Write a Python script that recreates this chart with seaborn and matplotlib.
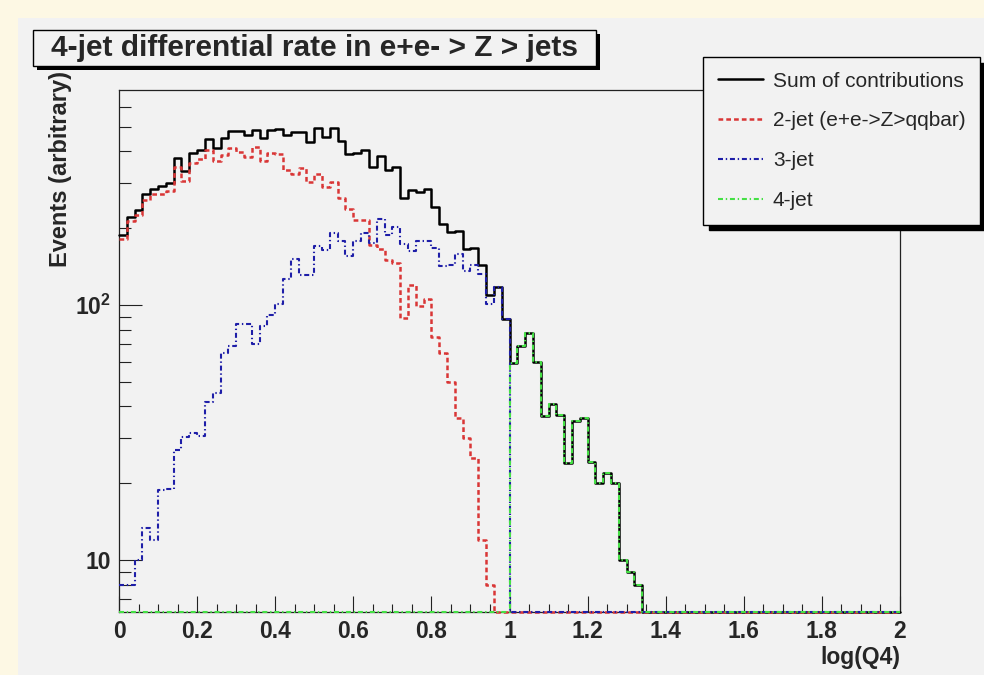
import numpy as np
import pandas as pd
import matplotlib
matplotlib.use("Agg")
import matplotlib.pyplot as plt
import seaborn as sns
from matplotlib.patches import Rectangle
from matplotlib.ticker import MultipleLocator, FixedLocator, FuncFormatter, NullFormatter, LogLocator

# histogram: 100 bins of 0.02 in log(Q4), from 0 to 2
n_bins = 100
x_min, x_max = 0.0, 2.0

two_jet = [181, 213, 225, 258, 273, 273, 281, 349, 306, 362,
           373, 405, 367, 387, 414, 399, 380, 415, 368, 394,
           391, 338, 325, 346, 303, 326, 291, 303, 262, 237,
           215, 215, 172, 166, 150, 146, 89, 120, 99, 106,
           75, 65, 50, 36, 30, 25, 12, 8] + [0] * 52

three_jet = [8, 8, 10, 13.3, 12, 18.8, 19, 27, 30.3, 31.6,
             30.6, 41.8, 45.3, 64.6, 69, 84, 84, 70, 83, 91,
             101, 127, 152, 131, 131, 170, 164, 192, 178, 155,
             178, 192, 175, 218, 188, 202, 173, 163, 178, 179,
             168, 142, 144, 159, 136, 143, 132, 101, 118, 88] + [0] * 50

four_jet = [0] * 50 + [59.4, 69, 78, 60, 36.8, 41, 37, 24, 35, 36,
                       24.2, 20, 22, 20, 10, 9, 8] + [0] * 33

y_min, y_max = 6.25, 697

edges = np.linspace(x_min, x_max, n_bins + 1)
hists = {
    "Sum of contributions": np.array(two_jet) + np.array(three_jet) + np.array(four_jet),
    "2-jet (e+e->Z>qqbar)": np.array(two_jet, dtype=float),
    "3-jet": np.array(three_jet, dtype=float),
    "4-jet": np.array(four_jet, dtype=float),
}
styles = {
    "Sum of contributions": dict(color="black", lw=1.8, dashes=None),
    "2-jet (e+e->Z>qqbar)": dict(color="#d93636", lw=1.8, dashes=(3.4, 2.2)),
    "3-jet": dict(color="#1e1ea8", lw=1.5, dashes=(3.6, 2.0, 1.0, 2.0)),
    "4-jet": dict(color="#45e045", lw=1.5, dashes=(3.6, 2.0, 1.0, 2.0)),
}

sns.set_theme(style="ticks")
plt.rcParams["font.family"] = ["Liberation Sans", "DejaVu Sans"]
plt.rcParams["font.weight"] = "bold"
plt.rcParams["mathtext.fontset"] = "custom"
plt.rcParams["mathtext.bf"] = "Liberation Sans:bold"
plt.rcParams["mathtext.rm"] = "Liberation Sans"
plt.rcParams["lines.scale_dashes"] = False

fig = plt.figure(figsize=(9.84, 6.75), dpi=100, facecolor="#fdf8e4")
fig.patches.append(Rectangle((18 / 984, 0), 1, 1 - 18 / 675, transform=fig.transFigure,
                             facecolor="#f2f2f2", edgecolor="none", zorder=-5))
ax = fig.add_axes([119 / 984, 1 - 612 / 675, 781 / 984, 522 / 675])
ax.set_facecolor("#f2f2f2")
ax.set_yscale("log")

for i, (name, vals) in enumerate(hists.items()):
    # zero bins sit on the bottom of the frame, like ROOT does on a log axis
    y = np.where(vals > 0, vals, y_min)
    df = pd.DataFrame({"x": edges, "y": np.append(y, y[-1])})
    st = styles[name]
    kw = {} if st["dashes"] is None else {"dashes": st["dashes"]}
    sns.lineplot(data=df, x="x", y="y", ax=ax, drawstyle="steps-post", color=st["color"],
                 lw=st["lw"], label=name, estimator=None, errorbar=None, sort=False,
                 clip_on=False, zorder=3 + i, **kw)

ax.set_xlim(x_min, x_max)
ax.set_ylim(y_min, y_max)

ax.xaxis.set_major_locator(MultipleLocator(0.2))
ax.xaxis.set_minor_locator(MultipleLocator(0.05))
ax.xaxis.set_major_formatter(FuncFormatter(lambda v, p: f"{v:g}"))
ax.yaxis.set_major_locator(FixedLocator([10, 100]))
ax.yaxis.set_minor_locator(LogLocator(base=10, subs=np.arange(2, 10)))
ax.yaxis.set_major_formatter(FuncFormatter(lambda v, p: "10" if v < 50 else r"$\mathbf{10^{2}}$"))
ax.yaxis.set_minor_formatter(NullFormatter())

ax.tick_params(axis="x", which="major", direction="in", length=11.5, width=0.8, labelsize=16.5, pad=6, color="#222222")
ax.tick_params(axis="x", which="minor", direction="in", length=5.8, width=0.8, color="#222222")
ax.tick_params(axis="y", which="major", direction="in", length=16.5, width=0.8, labelsize=16.5, pad=6, color="#222222")
ax.tick_params(axis="y", which="minor", direction="in", length=8.6, width=0.8, color="#222222")
for s in ax.spines.values():
    s.set_color("#222222")
    s.set_linewidth(0.9)

ax.set_xlabel("log(Q4)", fontsize=16.5, fontweight="bold", ha="right")
ax.xaxis.set_label_coords(1.0, -0.065)
ax.set_ylabel("")
fig.text(60 / 984, 1 - 71 / 675, "Events (arbitrary)", rotation=90, ha="center", va="top",
         fontsize=17, fontweight="bold")

# title box with shadow
fig.patches.append(Rectangle((37 / 984, 1 - 70 / 675), 563 / 984, 36 / 675, transform=fig.transFigure,
                             facecolor="black", edgecolor="none", zorder=5))
fig.patches.append(Rectangle((33 / 984, 1 - 66 / 675), 563 / 984, 36 / 675, transform=fig.transFigure,
                             facecolor="#f2f2f2", edgecolor="black", lw=1.0, zorder=6))
fig.text(314.5 / 984, 1 - 48 / 675, "4-jet differential rate in e+e- > Z > jets", ha="center", va="center",
         fontsize=21.5, fontweight="bold", zorder=7)

leg = ax.legend(loc="upper left", bbox_to_anchor=(703 / 984, 1 - 57 / 675), bbox_transform=fig.transFigure,
                borderaxespad=0, borderpad=0.7, handlelength=2.2, handletextpad=0.45, labelspacing=1.0,
                prop={"size": 15, "weight": "normal"}, fancybox=False, framealpha=1,
                facecolor="#f2f2f2", edgecolor="black",
                shadow={"ox": 4, "oy": -4, "color": "black", "alpha": 1})
leg.get_frame().set_linewidth(1.0)
leg.set_zorder(10)

fig.savefig("out.png", dpi=100, facecolor=fig.get_facecolor())
